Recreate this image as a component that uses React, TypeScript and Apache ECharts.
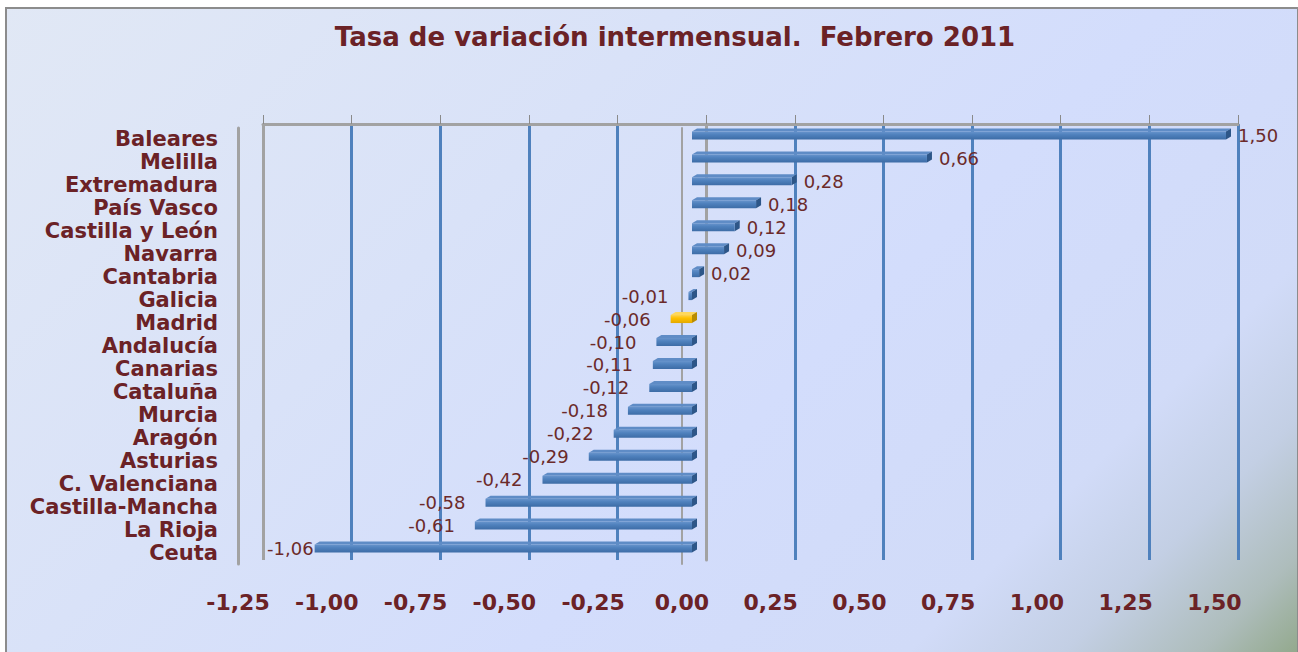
import React, { useEffect, useRef } from "react";
import * as echarts from "echarts";

const titleText = "Tasa de variación intermensual.  Febrero 2011";
const categories = [
  "Baleares", "Melilla", "Extremadura", "País Vasco", "Castilla y León", "Navarra",
  "Cantabria", "Galicia", "Madrid", "Andalucía", "Canarias", "Cataluña", "Murcia",
  "Aragón", "Asturias", "C. Valenciana", "Castilla-Mancha", "La Rioja", "Ceuta",
];
const values = [
  1.5, 0.66, 0.28, 0.18, 0.12, 0.09, 0.02, -0.01, -0.06, -0.1, -0.11, -0.12, -0.18,
  -0.22, -0.29, -0.42, -0.58, -0.61, -1.06,
];
const highlighted = "Madrid";
const axisMin = -1.25;
const axisMax = 1.5;
const axisStep = 0.25;

const TEXT = "#6b2226";
const FONT = "DejaVu Sans";
const fmt = (v: number) => v.toFixed(2).replace(".", ",");

export default function App() {
  const ref = useRef<HTMLDivElement>(null);
  useEffect(() => {
    if (!ref.current) return;
    const chart = echarts.init(ref.current, null, { renderer: "svg" });

    const blueFront = new echarts.graphic.LinearGradient(0, 0, 0, 1, [
      { offset: 0, color: "#6894cc" },
      { offset: 0.4, color: "#4f81bd" },
      { offset: 1, color: "#3d6ca6" },
    ]);
    const goldFront = new echarts.graphic.LinearGradient(0, 0, 0, 1, [
      { offset: 0, color: "#ffd24a" },
      { offset: 0.4, color: "#ffc000" },
      { offset: 1, color: "#e3a900" },
    ]);

    const barData = values.map((v, i) => {
      const isHi = categories[i] === highlighted;
      const item: any = {
        value: v,
        itemStyle: { color: isHi ? goldFront : blueFront },
        label: {
          position: v >= 0 ? "right" : "left",
          distance: v >= 0 ? 12 : 20,
        },
      };
      if (categories[i] === "Ceuta") item.label.distance = 1;
      return item;
    });

    const deco = values.map((v, i) => [v, i]);

    const valueAxisBase = { type: "value", min: axisMin, max: axisMax, interval: axisStep };

    const splitColors = [];
    for (let t = axisMin; t <= axisMax + 1e-9; t += axisStep) {
      splitColors.push(Math.abs(t - axisMin) < 1e-9 || Math.abs(t) < 1e-9 ? "#a2a2a2" : "#4f81bd");
    }

    chart.setOption({
      animation: false,
      title: {
        text: titleText,
        left: 670,
        top: 19,
        textAlign: "center",
        textStyle: { color: TEXT, fontSize: 26, fontWeight: "bold", fontFamily: FONT },
      },
      graphic: [
        {
          type: "rect",
          z: -100,
          shape: { x: 6, y: 8, width: 1292, height: 660 },
          style: {
            fill: new echarts.graphic.LinearGradient(
              0, 0, 975, 975,
              [
                { offset: 0, color: "#e1e8f5" },
                { offset: 0.35, color: "#d9e2f8" },
                { offset: 0.6, color: "#d3ddfc" },
                { offset: 0.8, color: "#d1dbf8" },
                { offset: 0.88, color: "#c3cfe4" },
                { offset: 0.95, color: "#aebdbc" },
                { offset: 1, color: "#93a98d" },
              ],
              true
            ),
            stroke: "#8c8c8c",
            lineWidth: 2,
          },
        },
      ],
      grid: [
        { left: 247, right: 72, top: 124, bottom: 92, outerBoundsMode: "none" },
        { left: 263, right: 60, top: 124, bottom: 92, outerBoundsMode: "none" },
        { left: 238, right: 83.5, top: 128, bottom: 88, outerBoundsMode: "none" },
      ],
      xAxis: [
        { ...valueAxisBase, gridIndex: 0, show: false },
        {
          ...valueAxisBase,
          gridIndex: 1,
          position: "top",
          axisLine: { show: true, lineStyle: { color: "#a2a2a2", width: 3 } },
          axisTick: { show: true, length: 9, lineStyle: { color: "#8a8a8a", width: 1 } },
          axisLabel: { show: false },
          splitLine: { show: true, lineStyle: { color: splitColors, width: 3 } },
        },
        {
          ...valueAxisBase,
          gridIndex: 2,
          position: "bottom",
          axisLine: { show: false },
          axisTick: { show: false },
          splitLine: { show: false },
          axisLabel: {
            margin: 27,
            formatter: (v: number) => fmt(v),
            color: TEXT,
            fontSize: 22,
            fontWeight: "bold",
            fontFamily: FONT,
          },
        },
      ],
      yAxis: [
        { type: "category", gridIndex: 0, data: categories, inverse: true, show: false },
        {
          type: "category",
          gridIndex: 1,
          data: categories,
          inverse: true,
          axisLine: { show: true, onZero: true, lineStyle: { color: "#a2a2a2", width: 3 } },
          axisTick: { show: false },
          axisLabel: { show: false },
        },
        {
          type: "category",
          gridIndex: 2,
          data: categories,
          inverse: true,
          axisLine: { show: true, onZero: false, lineStyle: { color: "#a2a2a2", width: 3 } },
          axisTick: { show: false },
          axisLabel: {
            interval: 0,
            margin: 20,
            color: TEXT,
            fontSize: 21,
            fontWeight: "bold",
            fontFamily: FONT,
          },
        },
        {
          type: "category",
          gridIndex: 2,
          data: categories,
          inverse: true,
          axisLine: { show: true, onZero: true, lineStyle: { color: "#a2a2a2", width: 2 } },
          axisTick: { show: false },
          axisLabel: { show: false },
        },
      ],
      series: [
        {
          type: "bar",
          xAxisIndex: 0,
          yAxisIndex: 0,
          barWidth: 8,
          data: barData,
          z: 3,
          label: {
            show: true,
            formatter: (p: any) => fmt(p.value),
            color: "#6b2a2a",
            fontSize: 18,
            fontFamily: FONT,
          },
        },
        {
          type: "custom",
          xAxisIndex: 0,
          yAxisIndex: 0,
          silent: true,
          z: 3,
          encode: { x: 0, y: 1 },
          data: deco,
          renderItem: (params: any, api: any) => {
            const val = api.value(0);
            const idx = api.value(1);
            const a = api.coord([0, idx]);
            const b = api.coord([val, idx]);
            const h = 8;
            const dx = 5;
            const dy = -3;
            const xl = Math.min(a[0], b[0]);
            const xr = Math.max(a[0], b[0]);
            const yt = a[1] - h / 2;
            const isHi = categories[idx] === highlighted;
            return {
              type: "group",
              children: [
                {
                  type: "polygon",
                  shape: { points: [[xl, yt], [xr, yt], [xr + dx, yt + dy], [xl + dx, yt + dy]] },
                  style: { fill: isHi ? "#ffd85c" : "#5f8cc6" },
                },
                {
                  type: "polygon",
                  shape: { points: [[xr, yt], [xr + dx, yt + dy], [xr + dx, yt + dy + h], [xr, yt + h]] },
                  style: { fill: isHi ? "#b98c00" : "#2d5688" },
                },
              ],
            };
          },
        },
      ],
    });
    return () => chart.dispose();
  }, []);
  return (
    <div
      ref={ref}
      style={{ position: "fixed", left: 0, top: 0, width: 1298, height: 652, background: "#ffffff" }}
    />
  );
}
